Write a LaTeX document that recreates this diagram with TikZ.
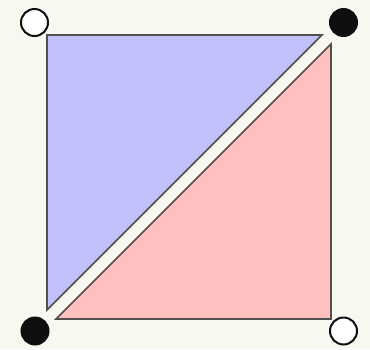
\documentclass[tikz,border=0pt]{standalone}
\usetikzlibrary{}
\definecolor{bg}{RGB}{248,247,240}
\definecolor{bluefill}{RGB}{192,192,250}
\definecolor{redfill}{RGB}{255,192,192}
\definecolor{edge}{RGB}{80,80,80}
\definecolor{dotblack}{RGB}{15,15,15}
\tikzset{
  tri/.style={draw=edge, line width=1.6pt, line join=miter},
  opendot/.style={circle, draw=dotblack, fill=white, line width=2pt, minimum size=27pt, inner sep=0pt},
  filldot/.style={circle, draw=dotblack, fill=dotblack, line width=2pt, minimum size=27pt, inner sep=0pt}
}
\begin{document}
\begin{tikzpicture}[x=1pt,y=-1pt]
\fill[bg] (0,0) rectangle (370,349);
\useasboundingbox (0,0) rectangle (370,349);
\draw[tri, fill=bluefill] (47,35) -- (322,35) -- (47,310) -- cycle;
\draw[tri, fill=redfill] (331,44) -- (331,319) -- (56,319) -- cycle;
\node[opendot] (tl) at (34.5,22.5) {};
\node[filldot] (tr) at (343.5,22.5) {};
\node[filldot] (bl) at (35,331) {};
\node[opendot] (br) at (343.5,331) {};
\end{tikzpicture}
\end{document}
